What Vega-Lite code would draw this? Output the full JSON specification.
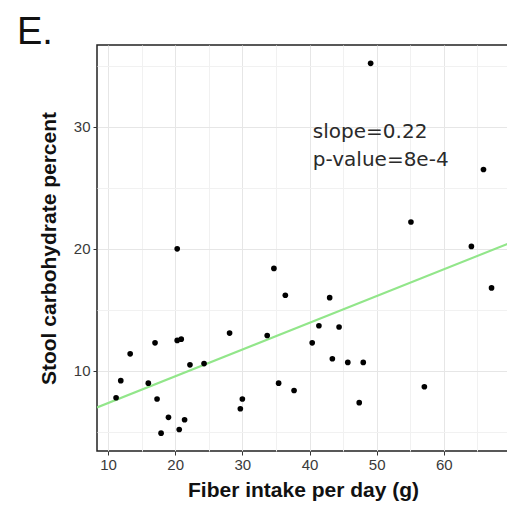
{
  "$schema": "https://vega.github.io/schema/vega-lite/v6.json",
  "width": 412,
  "height": 406,
  "autosize": {"type": "none"},
  "padding": {"left": 97, "top": 45, "right": 0, "bottom": 55},
  "background": "white",
  "title": {"text": "E.", "anchor": "start", "frame": "group", "font": "Liberation Sans", "fontSize": 38, "fontWeight": "normal", "color": "#111111", "dx": -80, "offset": 0, "baseline": "alphabetic", "dy": 37},
  "config": {
    "view": {"stroke": "#222222", "strokeWidth": 1.5},
    "axis": {"labelFont": "Liberation Sans", "titleFont": "Liberation Sans", "labelColor": "#3a3a3a", "labelFontSize": 15, "tickColor": "#333333", "tickSize": 4, "domain": false, "gridColor": "#e6e6e6", "gridWidth": 1, "titleColor": "#111111", "titleFontWeight": "bold"}
  },
  "datasets": {
    "pts": [
      {"fiber": 49.1, "carb": 35.2}, {"fiber": 65.9, "carb": 26.5}, {"fiber": 55.1, "carb": 22.2},
      {"fiber": 64.1, "carb": 20.2}, {"fiber": 67.1, "carb": 16.8}, {"fiber": 20.3, "carb": 20.0},
      {"fiber": 34.7, "carb": 18.4}, {"fiber": 36.4, "carb": 16.2}, {"fiber": 43.0, "carb": 16.0},
      {"fiber": 41.4, "carb": 13.7}, {"fiber": 44.4, "carb": 13.6}, {"fiber": 28.1, "carb": 13.1},
      {"fiber": 33.7, "carb": 12.9}, {"fiber": 40.4, "carb": 12.3}, {"fiber": 20.3, "carb": 12.5},
      {"fiber": 20.9, "carb": 12.6}, {"fiber": 17.0, "carb": 12.3}, {"fiber": 13.3, "carb": 11.4},
      {"fiber": 22.2, "carb": 10.5}, {"fiber": 24.3, "carb": 10.6}, {"fiber": 43.4, "carb": 11.0},
      {"fiber": 45.7, "carb": 10.7}, {"fiber": 48.0, "carb": 10.7}, {"fiber": 11.9, "carb": 9.2},
      {"fiber": 16.0, "carb": 9.0}, {"fiber": 35.4, "carb": 9.0}, {"fiber": 37.7, "carb": 8.4},
      {"fiber": 57.1, "carb": 8.7}, {"fiber": 11.2, "carb": 7.8}, {"fiber": 17.3, "carb": 7.7},
      {"fiber": 30.0, "carb": 7.7}, {"fiber": 29.7, "carb": 6.9}, {"fiber": 47.4, "carb": 7.4},
      {"fiber": 19.0, "carb": 6.2}, {"fiber": 21.4, "carb": 6.0}, {"fiber": 17.9, "carb": 4.9},
      {"fiber": 20.6, "carb": 5.2}
    ],
    "fit": [{"fiber": 8.36, "carb": 7.0}, {"fiber": 69.7, "carb": 20.45}],
    "notes": [
      {"fiber": 40.5, "carb": 29.6, "label": "slope=0.22"},
      {"fiber": 40.5, "carb": 27.3, "label": "p-value=8e-4"}
    ]
  },
  "layer": [
    {
      "data": {"name": "pts"},
      "mark": {"type": "point", "opacity": 0},
      "encoding": {
        "x": {"field": "fiber", "type": "quantitative", "scale": {"domain": [8.36, 69.7], "nice": false, "zero": false},
              "axis": {"orient": "top", "values": [15, 25, 35, 45, 55, 65], "grid": true, "gridColor": "#f1f1f1", "labels": false, "ticks": false, "domain": false, "title": null}},
        "y": {"field": "carb", "type": "quantitative", "scale": {"domain": [3.44, 36.7], "nice": false, "zero": false},
              "axis": {"orient": "right", "values": [5, 15, 25, 35], "grid": true, "gridColor": "#f1f1f1", "labels": false, "ticks": false, "domain": false, "title": null}}
      }
    },
    {
      "data": {"name": "fit"},
      "mark": {"type": "line", "color": "#92e68a", "strokeWidth": 2.2, "clip": true},
      "encoding": {
        "x": {"field": "fiber", "type": "quantitative", "axis": null},
        "y": {"field": "carb", "type": "quantitative", "axis": null}
      }
    },
    {
      "data": {"name": "pts"},
      "mark": {"type": "circle", "color": "#000000", "opacity": 1, "size": 32},
      "encoding": {
        "x": {"field": "fiber", "type": "quantitative",
              "axis": {"orient": "bottom", "values": [10, 20, 30, 40, 50, 60], "grid": true, "title": "Fiber intake per day (g)", "titleFontSize": 21, "titlePadding": 7, "labelPadding": 2}},
        "y": {"field": "carb", "type": "quantitative",
              "axis": {"orient": "left", "values": [10, 20, 30], "grid": true, "title": "Stool carbohydrate percent", "titleFontSize": 21, "titlePadding": 14, "labelPadding": 3}}
      }
    },
    {
      "data": {"name": "notes"},
      "mark": {"type": "text", "align": "left", "baseline": "middle", "font": "DejaVu Sans", "fontSize": 20, "color": "#2a2a2a"},
      "encoding": {
        "x": {"field": "fiber", "type": "quantitative", "axis": null},
        "y": {"field": "carb", "type": "quantitative", "axis": null},
        "text": {"field": "label"}
      }
    }
  ],
  "resolve": {"axis": {"x": "independent", "y": "independent"}}
}
